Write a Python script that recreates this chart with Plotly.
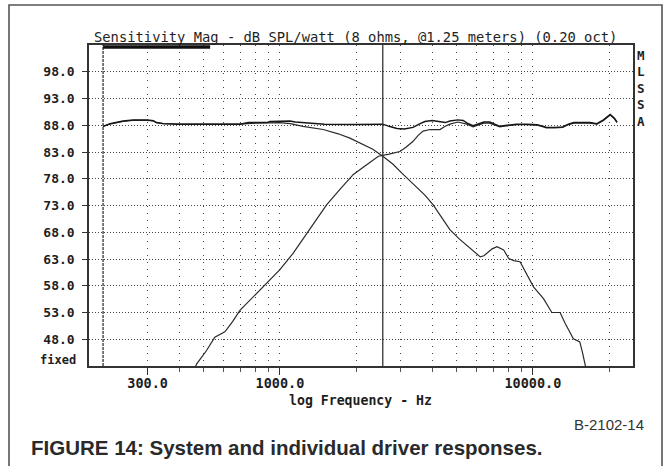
import math
import plotly.graph_objects as go

# ---------------------------------------------------------------------------
# Sensitivity magnitude, dB SPL/W (8 ohms, @1.25 m), 0.20-octave smoothing
# ---------------------------------------------------------------------------
system_freq = [200, 213, 240, 263, 300, 316, 325, 346, 400, 500, 600, 695, 750,
               888, 913, 1000, 1095, 1150, 1278, 1500, 2000, 2487, 2550, 2700,
               2900, 3100, 3360, 3550, 3740, 4000, 4300, 4500, 4700, 5050, 5300,
               5500, 5800, 6100, 6400, 6750, 7100, 7400, 7900, 8600, 9500, 10400,
               11000, 11300, 12200, 13100, 13800, 14500, 15500, 16800, 17900,
               19000, 20200, 21000, 21500]
system_db = [87.8, 88.3, 88.8, 89.0, 89.0, 88.85, 88.5, 88.3, 88.2, 88.15, 88.15,
             88.2, 88.5, 88.5, 88.7, 88.8, 88.8, 88.6, 88.4, 88.2, 88.15, 88.15,
             88.2, 87.8, 87.4, 87.3, 87.6, 88.2, 88.7, 88.9, 88.6, 88.5, 88.8,
             89.0, 88.9, 88.4, 87.9, 88.2, 88.6, 88.6, 88.2, 87.8, 88.0, 88.2,
             88.2, 88.1, 87.8, 87.6, 87.6, 87.7, 88.2, 88.5, 88.5, 88.5, 88.3,
             89.0, 90.0, 89.3, 88.6]

woofer_freq = [200, 213, 240, 263, 300, 316, 325, 346, 400, 500, 600, 695, 800,
               900, 1000, 1100, 1233, 1483, 1700, 1891, 2100, 2330, 2550, 2800,
               3027, 3200, 3463, 3750, 4034, 4400, 4696, 5100, 5467, 5800, 6193,
               6400, 6578, 6900, 7209, 7660, 8024, 8400, 8895, 9400, 10050, 11010,
               11880, 12800, 13400, 14450, 15320, 15700, 16040, 16300]
woofer_db = [87.8, 88.2, 88.7, 88.9, 88.9, 88.8, 88.5, 88.3, 88.2, 88.15, 88.15,
             88.2, 88.4, 88.5, 88.5, 88.3, 87.8, 87.2, 86.4, 85.6, 84.6, 83.5,
             82.2, 80.7, 79.1, 78.0, 76.6, 74.9, 73.1, 70.6, 68.5, 66.8, 65.6,
             64.5, 63.4, 63.6, 64.1, 64.9, 65.3, 64.7, 63.1, 62.7, 62.5, 60.5,
             57.8, 55.6, 53.0, 53.0, 51.0, 48.1, 47.5, 45.5, 43.0, 42.0]

tweeter_freq = [455, 469, 513, 553, 606, 650, 695, 750, 809, 886, 1000, 1129, 1314,
                1529, 1727, 1951, 2203, 2450, 2700, 2980, 3150, 3360, 3520, 3680,
                3920, 4100, 4290, 4500, 4700, 5050, 5480, 5800, 6100, 6400, 6750,
                7100, 7400, 7900, 8600, 9500, 10400, 11000, 11300, 12200, 13100,
                13800, 14500, 15500, 16800, 17900, 19000, 20200, 21000, 21500]
tweeter_db = [42.0, 43.4, 45.9, 48.4, 49.4, 51.3, 53.4, 55.0, 56.6, 58.5, 61.0,
              64.1, 68.5, 73.1, 76.0, 78.8, 80.6, 82.2, 82.6, 83.1, 83.9, 85.0,
              86.1, 86.9, 87.2, 87.2, 87.2, 87.8, 88.2, 88.6, 88.2, 87.7, 88.0,
              88.4, 88.4, 88.0, 87.7, 87.9, 88.1, 88.1, 88.0, 87.7, 87.5, 87.5,
              87.6, 88.1, 88.4, 88.4, 88.4, 88.2, 88.9, 89.9, 89.2, 88.5]

# axis ticks
y_tick_vals = [48, 53, 58, 63, 68, 73, 78, 83, 88, 93, 98]
y_tick_text = ["48.0", "53.0", "58.0", "63.0", "68.0", "73.0", "78.0", "83.0",
               "88.0", "93.0", "98.0"]
x_major_vals = [300, 1000, 10000]
x_major_text = ["300.0", "1000.0", "10000.0"]
x_minor_vals = [400, 500, 600, 700, 800, 900, 2000, 3000, 4000, 5000, 6000,
                7000, 8000, 9000, 20000]

f_min, f_max = 176, 24860          # plotted frequency span, Hz
db_min, db_max = 43, 103            # plotted level span, dB
limit_freq = 200                    # lower measurement limit (dashed)
crossover_freq = 2550               # cursor at the crossover point
window_bar = [200, 530]             # gated-window resolution bar

# plot-area placement in pixels
W, H = 667, 466
L, R, T, B = 89, 633, 45, 366


def px(x):
    return (x - L) / (R - L)


def py(y):
    return (B - y) / (B - T)


MONO = "DejaVu Sans Mono"
INK = "#1e1e1e"

fig = go.Figure()

fig.add_trace(go.Scatter(x=woofer_freq, y=woofer_db, mode="lines",
                         line=dict(color="#2a2a2a", width=1.2),
                         showlegend=False, hoverinfo="skip"))
fig.add_trace(go.Scatter(x=tweeter_freq, y=tweeter_db, mode="lines",
                         line=dict(color="#2a2a2a", width=1.2),
                         showlegend=False, hoverinfo="skip"))
fig.add_trace(go.Scatter(x=system_freq, y=system_db, mode="lines",
                         line=dict(color="#161616", width=1.45),
                         showlegend=False, hoverinfo="skip"))

shapes = [
    # dashed lower-limit line
    dict(type="line", xref="x", yref="paper", x0=limit_freq, x1=limit_freq,
         y0=0, y1=1, line=dict(color="#333", width=1.3, dash="3px,1px")),
    # crossover cursor
    dict(type="line", xref="x", yref="paper", x0=crossover_freq,
         x1=crossover_freq, y0=0, y1=1, line=dict(color="#333", width=1.3)),
    # window resolution bar along the top edge
    dict(type="line", xref="x", yref="paper", x0=window_bar[0], x1=window_bar[1],
         y0=py(47), y1=py(47), line=dict(color="#111", width=3.5)),
    # outer frame of the figure panel
    dict(type="rect", xref="paper", yref="paper", x0=px(9), x1=px(662),
         y0=py(470), y1=py(5), line=dict(color="#555", width=1.6),
         fillcolor="rgba(0,0,0,0)", layer="below"),
]

annotations = [
    dict(text="Sensitivity Mag - dB SPL/watt (8 ohms, @1.25 meters) (0.20 oct)",
         x=px(355), y=py(37), font=dict(family=MONO, size=13.8, color=INK)),
    dict(text="fixed", x=px(78), y=py(360), xanchor="right",
         font=dict(family=MONO, size=12, color=INK, weight="bold")),
    dict(text="log Frequency - Hz", x=px(360), y=py(401),
         font=dict(family=MONO, size=13.2, color=INK, weight="bold")),
    dict(text="B-2102-14", x=px(646), y=py(424), xanchor="right",
         font=dict(family="Liberation Sans, sans-serif", size=15, color="#333")),
    dict(text="FIGURE 14: System and individual driver responses.",
         x=px(29), y=py(447), xanchor="left",
         font=dict(family="Liberation Sans, sans-serif", size=20.5,
                   color="#2a2a2a", weight="bold")),
]
for i, ch in enumerate("MLSSA"):
    annotations.append(dict(text=ch, x=px(641), y=py(55 + 16.5 * i),
                            font=dict(family=MONO, size=12.5, color=INK,
                                      weight="bold")))
for a in annotations:
    a.setdefault("xref", "paper")
    a.setdefault("yref", "paper")
    a.setdefault("showarrow", False)
    a.setdefault("xanchor", "center")
    a.setdefault("yanchor", "middle")

fig.update_layout(
    width=W, height=H,
    margin=dict(l=L, r=W - R, t=T, b=H - B),
    paper_bgcolor="white", plot_bgcolor="white",
    shapes=shapes, annotations=annotations,
    xaxis=dict(
        type="log", range=[math.log10(f_min), math.log10(f_max)],
        tickvals=x_major_vals, ticktext=x_major_text,
        ticks="outside", ticklen=7, tickwidth=1, tickcolor="#333",
        showgrid=True, gridcolor="#444", gridwidth=1, griddash="1px,6px",
        minor=dict(tickvals=x_minor_vals, ticks="outside", ticklen=4,
                   tickcolor="#555", showgrid=True, gridcolor="#444",
                   gridwidth=1, griddash="1px,6px"),
        showline=True, linecolor="#333", linewidth=1.5, mirror=True,
        zeroline=False, ticklabelstandoff=-3,
        tickfont=dict(family=MONO, size=13.5, color=INK, weight="bold"),
    ),
    yaxis=dict(
        range=[db_min, db_max],
        tickvals=y_tick_vals, ticktext=y_tick_text,
        ticks="outside", ticklen=5, tickwidth=1, tickcolor="#333",
        showgrid=True, gridcolor="#444", gridwidth=1, griddash="1px,2px",
        showline=True, linecolor="#333", linewidth=1.5, mirror=True,
        zeroline=False, ticklabelstandoff=5,
        tickfont=dict(family=MONO, size=13, color=INK, weight="bold"),
    ),
)

fig.write_html("out.html")
